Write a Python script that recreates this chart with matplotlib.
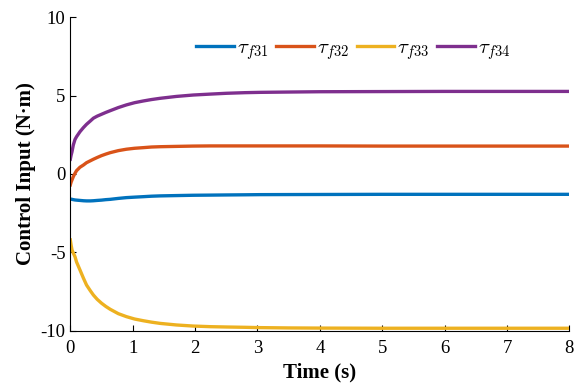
import matplotlib
matplotlib.use("Agg")
import matplotlib.pyplot as plt

plt.rcParams['font.family'] = ['Liberation Serif', 'DejaVu Serif']
plt.rcParams['mathtext.fontset'] = 'cm'
plt.rcParams['axes.unicode_minus'] = False

# Sampled time instants (s)
time = [0.0, 0.013, 0.027, 0.048, 0.075, 0.10, 0.155, 0.21, 0.26, 0.32, 0.37, 0.43, 0.50, 0.57,
        0.64, 0.77, 0.90, 1.03, 1.17, 1.30, 1.44, 1.70, 1.97, 2.25, 2.50, 2.80, 3.04, 3.5,
        4.0, 5.0, 6.0, 7.0, 8.0]

# Control torques (N·m)
tau_f31 = [-1.60, -1.61, -1.62, -1.64, -1.66, -1.67, -1.69, -1.71, -1.72, -1.72, -1.71, -1.69,
           -1.67, -1.64, -1.62, -1.56, -1.51, -1.48, -1.45, -1.42, -1.40, -1.38, -1.36, -1.35,
           -1.34, -1.33, -1.32, -1.315, -1.31, -1.30, -1.30, -1.30, -1.30]
tau_f32 = [-0.70, -0.52, -0.38, -0.17, 0.04, 0.21, 0.43, 0.57, 0.72, 0.84, 0.94, 1.05,
           1.17, 1.27, 1.36, 1.49, 1.58, 1.64, 1.68, 1.72, 1.74, 1.76, 1.78, 1.79,
           1.79, 1.79, 1.79, 1.79, 1.79, 1.78, 1.78, 1.78, 1.78]
tau_f33 = [-4.21, -4.55, -4.85, -5.05, -5.28, -5.62, -6.13, -6.65, -7.09, -7.45, -7.73, -8.00,
           -8.25, -8.46, -8.64, -8.92, -9.11, -9.26, -9.37, -9.46, -9.54, -9.64, -9.71, -9.75,
           -9.77, -9.79, -9.81, -9.83, -9.84, -9.85, -9.85, -9.85, -9.85]
tau_f34 = [0.94, 1.20, 1.42, 1.85, 2.20, 2.38, 2.70, 2.96, 3.17, 3.38, 3.56, 3.69,
           3.81, 3.93, 4.04, 4.24, 4.41, 4.55, 4.66, 4.75, 4.83, 4.95, 5.04, 5.10,
           5.15, 5.19, 5.21, 5.23, 5.25, 5.26, 5.27, 5.27, 5.27]

labels = [r'$\tau_{f31}$', r'$\tau_{f32}$', r'$\tau_{f33}$', r'$\tau_{f34}$']
colors = ['#0072BD', '#D95319', '#EDB120', '#7E2F8E']

fig = plt.figure(figsize=(5.84, 3.85), dpi=100)
ax = fig.add_axes([0.1204, 0.1413, 0.8546, 0.8137])

for series, lab, col in zip([tau_f31, tau_f32, tau_f33, tau_f34], labels, colors):
    ax.plot(time, series, color=col, lw=2.4, label=lab)

ax.set_xlim(0, 8)
ax.set_ylim(-10, 10)
ax.set_xticks(range(0, 9))
ax.set_yticks([-10, -5, 0, 5, 10])
ax.spines['top'].set_visible(False)
ax.spines['right'].set_visible(False)
ax.tick_params(direction='in', length=4, labelsize=13.5, width=0.8)
ax.tick_params(axis='x', pad=7)
ax.set_xlabel('Time (s)', fontsize=15, fontweight='bold', labelpad=4)
ax.set_ylabel('Control Input (N·m)', fontsize=15, fontweight='bold', labelpad=3)

ax.legend(loc='center', ncol=4, frameon=False, fontsize=15,
          handlelength=1.8, columnspacing=0.37, handletextpad=0.15,
          bbox_to_anchor=(0.567, 0.895))

fig.savefig('out.png', dpi=100)
